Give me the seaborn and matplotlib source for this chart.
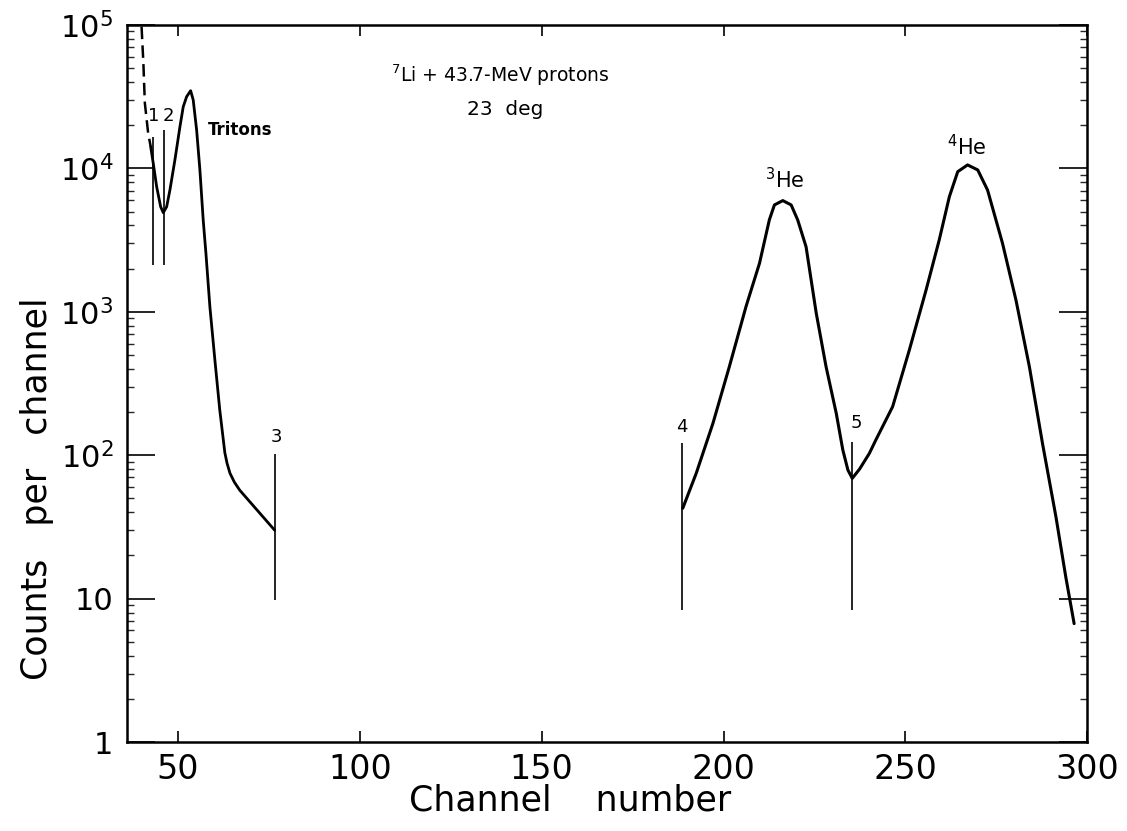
import numpy as np
import pandas as pd
import matplotlib
matplotlib.use("Agg")
import matplotlib.pyplot as plt
import seaborn as sns
from matplotlib.ticker import FixedLocator, FixedFormatter, LogLocator, NullFormatter

# ---------------- data ----------------
triton_dash_channel = [40.0, 40.5, 40.9, 41.8, 42.5]
triton_dash_counts = [97300, 54100, 28600, 17700, 14200]

triton_channel = [42.5, 43.2, 44.15, 45.25, 45.96, 46.9, 47.8, 49.18, 50.55, 51.46,
                  52.39, 53.49, 54.2, 55.14, 56.04, 56.95, 57.69, 58.79, 60.16, 61.5,
                  62.9, 63.5, 64.3, 65.5, 67.0, 76.6]
triton_counts = [14200, 10900, 7450, 5400, 4910, 5400, 7070, 11500, 19500, 26900,
                 31600, 34800, 30000, 18500, 9750, 4360, 2570, 1080, 461, 207,
                 104, 88, 75, 65, 57, 30]

he_channel = [188.8, 192.5, 197.1, 201.6, 206.2, 209.9, 212.6, 214.0, 216.3, 218.6,
              220.4, 222.7, 225.5, 228.2, 231.0, 232.8, 234.2, 235.4, 237.4, 240.1,
              241.9, 246.5, 251.1, 255.7, 259.3, 262.1, 264.4, 267.1, 269.9, 272.6,
              276.7, 280.4, 284.1, 287.7, 291.4, 294.1, 296.4]
he_counts = [42.7, 74.8, 167, 414, 1090, 2180, 4370, 5560, 5960, 5560,
             4370, 2840, 977, 414, 196, 109, 78.9, 69.0, 80.0, 103,
             128, 218, 542, 1420, 3160, 6350, 9480, 10570, 9750, 7060,
             3010, 1210, 414, 121, 37.2, 14.2, 6.7]

marker_labels = ["1", "2", "3", "4", "5"]
marker_channel = [43.2, 46.2, 76.6, 188.5, 235.4]
marker_low = [2120, 2120, 9.8, 8.3, 8.3]
marker_high = [16600, 18600, 102, 122, 123]
marker_label_channel = [43.4, 47.4, 77.2, 188.5, 236.5]
marker_label_counts = [23000, 23000, 135, 158, 168]

ytick_values = [1, 10, 100, 1000, 10000, 100000]
ytick_labels = ["1", "10", r"$10^{2}$", r"$10^{3}$", r"$10^{4}$", r"$10^{5}$"]
xtick_values = [50, 100, 150, 200, 250, 300]
xtick_labels = ["50", "100", "150", "200", "250", "300"]

# ---------------- figure ----------------
sns.set_style("ticks")
plt.rcParams["font.family"] = ["DejaVu Sans"]
plt.rcParams["mathtext.fontset"] = "dejavusans"

fig = plt.figure(figsize=(11.27, 8.31), dpi=100)
ax = fig.add_axes([0.1127, 0.107, 0.852, 0.863])

dash_df = pd.DataFrame({"channel": triton_dash_channel, "counts": triton_dash_counts})
tri_df = pd.DataFrame({"channel": triton_channel, "counts": triton_counts})
he_df = pd.DataFrame({"channel": he_channel, "counts": he_counts})

sns.lineplot(data=dash_df, x="channel", y="counts", ax=ax, color="black",
             linewidth=1.8, sort=False, estimator=None)
ax.lines[-1].set_linestyle((0, (5, 2.5)))
sns.lineplot(data=tri_df, x="channel", y="counts", ax=ax, color="black",
             linewidth=2.0, sort=False, estimator=None)
sns.lineplot(data=he_df, x="channel", y="counts", ax=ax, color="black",
             linewidth=2.2, sort=False, estimator=None)
for ln in ax.lines:
    ln.set_solid_joinstyle("round")
    ln.set_solid_capstyle("round")

ax.vlines(marker_channel, marker_low, marker_high, color="black", linewidth=1.2)
for lab, cx, cy in zip(marker_labels, marker_label_channel, marker_label_counts):
    ax.text(cx, cy, lab, ha="center", va="center", fontsize=13, color="black")

ax.set_yscale("log")
ax.set_xlim(36, 300)
ax.set_ylim(1, 1e5)

ax.yaxis.set_major_locator(FixedLocator(ytick_values))
ax.yaxis.set_major_formatter(FixedFormatter(ytick_labels))
ax.yaxis.set_minor_locator(LogLocator(base=10, subs=np.arange(2, 10)))
ax.yaxis.set_minor_formatter(NullFormatter())
ax.xaxis.set_major_locator(FixedLocator(xtick_values))
ax.xaxis.set_major_formatter(FixedFormatter(xtick_labels))

for s in ax.spines.values():
    s.set_linewidth(1.8)
    s.set_color("black")
    s.set_visible(True)

ax.tick_params(axis="y", which="major", direction="in", length=20, width=1.2,
               left=True, right=True, labelsize=22, pad=10, colors="black")
ax.tick_params(axis="y", which="minor", direction="in", length=5, width=1.0,
               left=True, right=True)
ax.tick_params(axis="x", which="major", direction="in", length=8, width=1.2,
               bottom=True, top=True, labelsize=24, pad=8, colors="black")

ax.set_xlabel("Channel    number", fontsize=25, color="black")
ax.set_ylabel("Counts   per   channel", fontsize=25, color="black")
ax.xaxis.set_label_coords(0.461, -0.058)
ax.yaxis.set_label_coords(-0.076, 0.354)

ax.text(138.5, 10 ** 4.65, r"$^{7}$Li + 43.7-MeV protons", ha="center", va="center",
        fontsize=13.5, color="black")
ax.text(140, 10 ** 4.41, "23  deg", ha="center", va="center", fontsize=14.5,
        color="black")
ax.text(58.3, 10 ** 4.27, "Tritons", ha="left", va="center", fontsize=12,
        fontweight="bold", color="black")
ax.text(216.8, 10 ** 3.92, r"$^{3}$He", ha="center", va="center", fontsize=15, color="black")
ax.text(267.0, 10 ** 4.15, r"$^{4}$He", ha="center", va="center", fontsize=15, color="black")

fig.savefig("out.png", dpi=100, facecolor="white")
